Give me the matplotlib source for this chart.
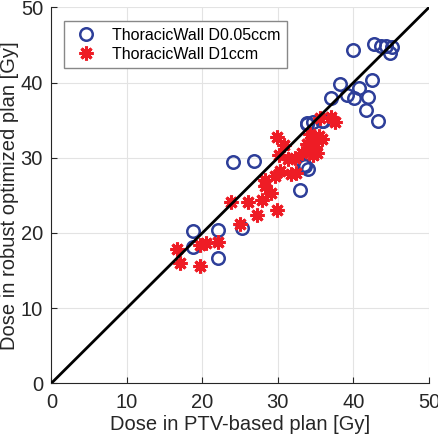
import numpy as np
import matplotlib
matplotlib.use("Agg")
import matplotlib.pyplot as plt

plt.rcParams['font.family'] = ['Liberation Sans', 'DejaVu Sans']

# ThoracicWall D0.05ccm (blue circles)
ptv_d005 = [40.0, 42.7, 43.6, 44.3, 45.1, 44.8, 42.4, 40.8, 38.2, 37.1, 39.1, 40.1,
            42.0, 41.7, 43.2, 33.8, 34.7, 35.8, 33.9, 36.0, 26.8, 24.1, 34.0, 33.6,
            32.9, 33.4, 18.8, 18.7, 22.1, 22.1, 25.2]
rob_d005 = [44.4, 45.1, 44.9, 44.9, 44.8, 43.9, 40.4, 39.3, 39.8, 38.0, 38.4, 37.9,
            38.1, 36.4, 34.9, 34.6, 34.7, 34.9, 34.5, 34.9, 29.6, 29.5, 28.5, 28.9,
            25.7, 29.1, 20.2, 18.1, 20.4, 16.7, 20.6]

# ThoracicWall D1ccm (red asterisks)
ptv_d1 = [16.6, 17.0, 19.7, 19.7, 20.5, 22.1, 25.0, 23.8, 26.1, 27.2, 27.9, 29.1,
          29.9, 28.3, 28.3, 29.6, 30.3, 29.9, 30.8, 30.1, 31.4, 31.7, 32.4, 32.3,
          33.2, 33.8, 34.5, 34.9, 34.7, 34.3, 35.4, 35.8, 35.6, 37.1, 37.6, 34.1,
          35.2]
rob_d1 = [17.9, 16.0, 15.6, 18.4, 18.6, 18.8, 21.2, 24.1, 24.1, 22.4, 24.4, 25.3,
          23.1, 27.0, 26.3, 27.6, 28.3, 32.8, 31.7, 30.4, 29.8, 27.8, 28.0, 30.0,
          30.7, 31.8, 32.2, 31.4, 30.4, 33.1, 32.9, 32.5, 35.3, 35.4, 34.7, 31.1,
          30.7]

ticks = [0, 10, 20, 30, 40, 50]

fig = plt.figure(figsize=(4.39, 4.41), dpi=100)
ax = fig.add_axes([0.117, 0.131, 0.860, 0.852])

ax.plot(ptv_d005, rob_d005, linestyle='none', marker='o', markersize=9,
        markerfacecolor='none', markeredgecolor='#2d3e99', markeredgewidth=1.8,
        label='ThoracicWall D0.05ccm', zorder=3)
ax.plot(ptv_d1, rob_d1, linestyle='none', marker=(8, 2, 0), markersize=10,
        markeredgecolor='#ee1c25', markeredgewidth=2.2,
        label='ThoracicWall D1ccm', zorder=4)
ax.plot([0, 50], [0, 50], color='black', linewidth=2, zorder=5)

ax.set_xlim(0, 50)
ax.set_ylim(0, 50)
ax.set_xticks(ticks)
ax.set_yticks(ticks)
ax.grid(True, color='#e3e3e3', linewidth=0.8)
ax.set_axisbelow(True)
ax.tick_params(direction='in', labelsize=14.5, colors='#262626', length=4)
ax.tick_params(axis='x', pad=7)
ax.tick_params(axis='y', pad=6)
for s in ['top', 'right']:
    ax.spines[s].set_visible(False)
for s in ['left', 'bottom']:
    ax.spines[s].set_color('#262626')

ax.set_xlabel('Dose in PTV-based plan [Gy]', fontsize=14.5, color='#262626', labelpad=2)
ax.set_ylabel('Dose in robust optimized plan [Gy]', fontsize=14.5, color='#262626', labelpad=1)

leg = ax.legend(loc='upper left', bbox_to_anchor=(0.012, 0.985), fontsize=11.5,
                fancybox=False, edgecolor='#888888', framealpha=1,
                borderpad=0.4, handletextpad=0.6, labelspacing=0.25)

fig.savefig('out.png', dpi=100)
